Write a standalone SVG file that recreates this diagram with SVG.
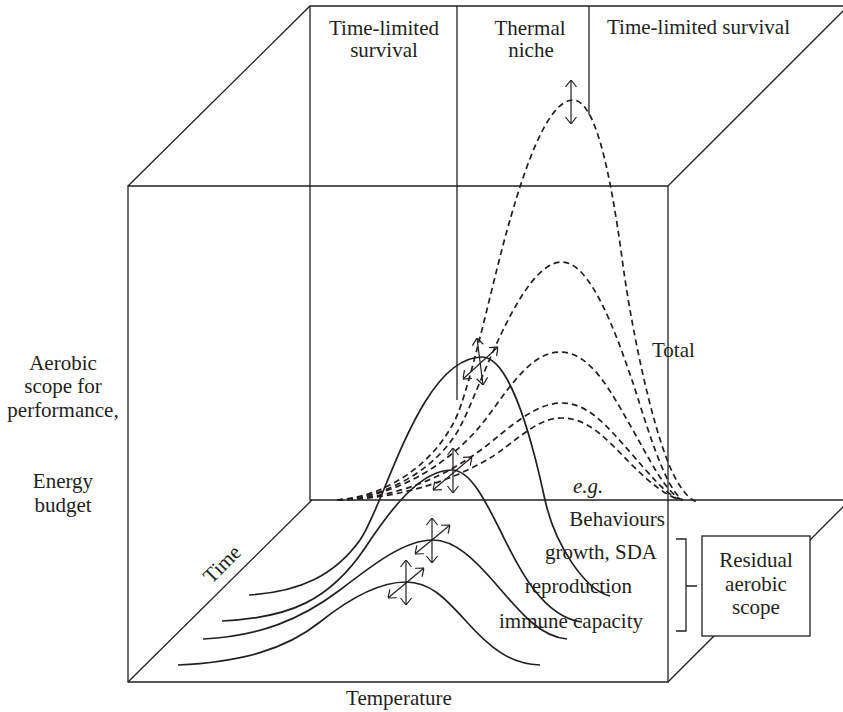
<svg xmlns="http://www.w3.org/2000/svg" width="843" height="712" viewBox="0 0 843 712">
<style>
  .frame{fill:none;stroke:#231f20;stroke-width:1.3}
  .solid{fill:none;stroke:#231f20;stroke-width:1.7}
  .dash{fill:none;stroke:#231f20;stroke-width:1.7;stroke-dasharray:6 4}
  .arr{fill:none;stroke:#231f20;stroke-width:1.2;marker-start:url(#ah);marker-end:url(#ah)}
  text{font-family:"Liberation Serif","Times New Roman",serif;font-size:21px;fill:#231f20}
  .mid{text-anchor:middle}
  .end{text-anchor:end}
</style>
<defs>
  <marker id="ah" viewBox="0 0 8 12" refX="8" refY="6" markerWidth="8" markerHeight="12" markerUnits="userSpaceOnUse" orient="auto-start-reverse">
    <path d="M1,0.5 L8,6 L1,11.5" fill="none" stroke="#231f20" stroke-width="1.2"/>
  </marker>
</defs>
<rect width="843" height="712" fill="#fff"/>

<g id="box">
  <path class="frame" d="M128,186 H668 V682 H128 Z"/>
  <path class="frame" d="M128,186 L310,6 H843"/>
  <path class="frame" d="M668,186 L843,11" stroke-width="1.7"/>
  <path class="frame" d="M310,6 V500 H843"/>
  <path class="frame" d="M457,6 V400"/>
  <path class="frame" d="M589,6 V115"/>
  <path class="frame" d="M128,682 L312,500"/>
  <path class="frame" d="M668,682 L850,500"/>
</g>

<g id="connectors">
  <!-- dashed curves -->
  <path class="dash" d="M337,500 C380,497 430,470 455,420 C470,390 495,270 510,220 C520,185 545,100 573,100 C595,100 610,170 622,258 C630,320 650,420 670,467 C680,490 690,500 697,502"/>
  <path class="dash" d="M337,500 C390,498 440,465 460,427 C480,390 520,262 562,262 C590,262 615,330 633,383 C645,420 665,490 683,500"/>
  <path class="dash" d="M337,500 C390,498 440,470 475,432 C500,405 525,352 560,352 C590,352 610,390 630,425 C650,460 665,492 682,500"/>
  <path class="dash" d="M337,500 C400,498 450,475 490,443 C520,418 540,403 562,403 C590,403 610,430 630,452 C650,475 665,493 678,499"/>
  <path class="dash" d="M337,500 C400,499 455,480 495,455 C525,433 540,418 562,418 C590,418 610,443 630,463 C650,483 665,495 680,500"/>
  <!-- solid curves -->
  <path class="solid" d="M249,595 C300,592 335,575 360,540 C385,505 420,357 482,357 C508,357 530,430 545,500 C555,545 585,590 610,596"/>
  <path class="solid" d="M222,621 C290,618 330,600 365,548 C390,510 420,470 452,470 C470,470 485,500 500,530 C515,560 540,617 582,622"/>
  <path class="solid" d="M203,639 C260,636 300,620 340,590 C375,563 405,540 433,540 C455,540 475,560 495,583 C520,612 540,637 567,639"/>
  <path class="solid" d="M178,665 C240,662 285,650 320,622 C350,598 380,582 406,582 C430,582 445,598 465,620 C490,648 510,664 540,665"/>
  <!-- double arrows -->
  <path class="arr" d="M571,80 V124"/>
  <path class="arr" d="M477,338 L483,385"/>
  <path class="arr" d="M463,379 L498,347"/>
  <path class="arr" d="M453,448 V493"/>
  <path class="arr" d="M433,490 L472,457"/>
  <path class="arr" d="M432,518 V563"/>
  <path class="arr" d="M415,554 L450,525"/>
  <path class="arr" d="M406,560 V605"/>
  <path class="arr" d="M388,598 L424,568"/>
  <!-- bracket -->
  <path class="frame" d="M676,539 H686 V631 H676 M686,586 H697"/>
</g>

<g id="residual">
  <rect x="702" y="536" width="108" height="100" fill="#fff" stroke="#231f20" stroke-width="1.3"/>
  <text class="mid" x="756" y="567">Residual</text>
  <text class="mid" x="756" y="591">aerobic</text>
  <text class="mid" x="756" y="614">scope</text>
</g>

<g id="labels">
  <text class="mid" x="384" y="35">Time-limited</text>
  <text class="mid" x="384" y="57">survival</text>
  <text class="mid" x="530" y="35">Thermal</text>
  <text class="mid" x="531" y="57">niche</text>
  <text x="607" y="34">Time-limited survival</text>
  <text x="652" y="357">Total</text>
  <text x="573" y="493" font-style="italic">e.g.</text>
  <text class="end" x="665" y="526">Behaviours</text>
  <text class="end" x="657" y="559">growth, SDA</text>
  <text class="end" x="632" y="593">reproduction</text>
  <text class="end" x="643" y="628">immune capacity</text>
  <text class="mid" x="63" y="370">Aerobic</text>
  <text class="mid" x="63" y="393">scope for</text>
  <text class="mid" x="63" y="417">performance,</text>
  <text class="mid" x="63" y="488">Energy</text>
  <text class="mid" x="63" y="512">budget</text>
  <text class="mid" x="399" y="705">Temperature</text>
  <text class="mid" transform="translate(227,569) rotate(-45)">Time</text>
</g>
</svg>
